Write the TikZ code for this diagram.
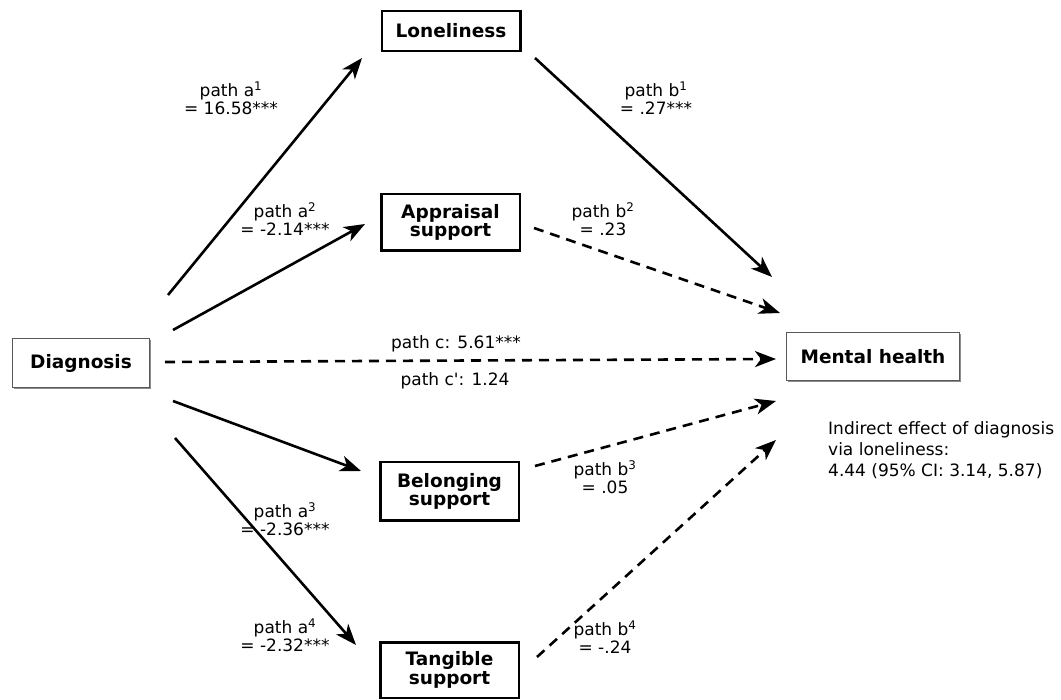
\documentclass[tikz,border=0pt]{standalone}
\usepackage{fontspec}
\setmainfont{DejaVu Sans}[Ligatures=TeXOff]
\usetikzlibrary{arrows.meta,shadows}
\begin{document}
\begin{tikzpicture}[x=1pt,y=-1pt,
  every node/.style={inner sep=0pt},
  mbox/.style={draw=black,line width=2.5pt,fill=white,align=center,
    font=\fontsize{18.5}{18.5}\selectfont\bfseries,minimum width=138.5pt},
  sbox/.style={draw=black!65,line width=1.3pt,fill=white,
    font=\fontsize{18.5}{18.5}\selectfont\bfseries,
    drop shadow={shadow xshift=1.3pt,shadow yshift=-1.3pt,fill=black!45,opacity=1}},
  lab/.style={align=center,font=\fontsize{17}{17.5}\selectfont},
  arr/.style={line width=2.6pt,-{Stealth[length=21pt,width=16pt,inset=6pt]}},
  darr/.style={arr,dash pattern=on 10pt off 7pt}]
\useasboundingbox (0,0) rectangle (1061,700);
\fill[white] (0,0) rectangle (1061,700);

% boxes
\node[mbox,minimum height=40pt] (lon) at (451,31) {Loneliness};
\node[mbox,minimum height=56.5pt] (app) at (450.5,222.5) {Appraisal\\support};
\node[mbox,minimum height=58.5pt] (bel) at (449.5,491.5) {Belonging\\support};
\node[mbox,minimum height=55.5pt] (tan) at (449.5,670) {Tangible\\support};
\node[sbox,minimum width=137pt,minimum height=49pt] (dia) at (81,363) {Diagnosis};
\node[sbox,minimum width=173pt,minimum height=48pt] (mh) at (873,356.5) {Mental health};

% connector end points
\coordinate (a1s) at (168,295); \coordinate (a1e) at (362,58);
\coordinate (a2s) at (173,330); \coordinate (a2e) at (365,224);
\coordinate (cs) at (165,362);  \coordinate (ce) at (776,359);
\coordinate (a3s) at (173,401); \coordinate (a3e) at (361,471);
\coordinate (a4s) at (175,438); \coordinate (a4e) at (356,645);
\coordinate (b1s) at (535,58);  \coordinate (b1e) at (772,277);
\coordinate (b2s) at (534,228); \coordinate (b2e) at (780,313);
\coordinate (b3s) at (535,466); \coordinate (b3e) at (776,401);
\coordinate (b4s) at (537,657); \coordinate (b4e) at (776,440);

\draw[arr] (a1s) -- (a1e);
\draw[arr] (a2s) -- (a2e);
\draw[darr] (cs) -- (ce);
\draw[arr] (a3s) -- (a3e);
\draw[arr] (a4s) -- (a4e);
\draw[arr] (b1s) -- (b1e);
\draw[darr] (b2s) -- (b2e);
\draw[darr] (b3s) -- (b3e);
\draw[darr] (b4s) -- (b4e);

% labels
\node[lab] (la1) at (231,98) {path a\textsuperscript{1}\\= 16.58***};
\node[lab] (la2) at (285,219) {path a\textsuperscript{2}\\= -2.14***};
\node[lab] (la3) at (285,519) {path a\textsuperscript{3}\\= -2.36***};
\node[lab] (la4) at (285,635) {path a\textsuperscript{4}\\= -2.32***};
\node[lab] (lb1) at (656,98) {path b\textsuperscript{1}\\= .27***};
\node[lab] (lb2) at (603,219) {path b\textsuperscript{2}\\= .23};
\node[lab] (lb3) at (605,477) {path b\textsuperscript{3}\\= .05};
\node[lab] (lb4) at (605,637) {path b\textsuperscript{4}\\= -.24};
\node[lab] (lc) at (456,344) {path c: 5.61***};
\node[lab] (lcp) at (455,381) {path c': 1.24};
\node[align=left,anchor=north west,font=\fontsize{17}{21}\selectfont] (ind) at (828,421)
  {Indirect effect of diagnosis\\via loneliness:\\4.44 (95\% CI: 3.14, 5.87)};
\end{tikzpicture}
\end{document}
